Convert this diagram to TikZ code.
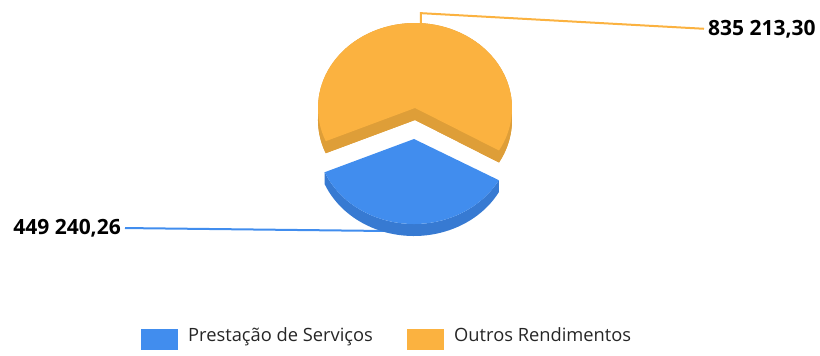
\documentclass[tikz,border=0pt]{standalone}
\usepackage{fontspec}
\setmainfont{Open Sans}
\usetikzlibrary{calc}
\definecolor{servblue}{RGB}{65,141,238}
\definecolor{servside}{RGB}{55,122,210}
\definecolor{outrorange}{RGB}{251,178,64}
\definecolor{outrside}{RGB}{222,158,56}
\tikzset{
  valuelabel/.style={font=\fontsize{21}{24}\selectfont\bfseries, inner sep=0pt},
  legendtext/.style={font=\fontsize{18.3}{21}\selectfont, text=black!85, inner sep=0pt,
    anchor=west, text height=0.75em, text depth=0.25em},
  legendbox/.style={minimum width=37pt, minimum height=21pt, inner sep=0pt},
  leader/.style={line width=2pt},
}
\begin{document}
\begin{tikzpicture}[x=1pt,y=1pt]
\useasboundingbox (0,0) rectangle (820,356);
% apexes of the two slices, top face and bottom face
\coordinate (otop) at (415,248);
\coordinate (obot) at (415,236);
\coordinate (btop) at (414,217);
\coordinate (bbot) at (414,205);
\path (otop) ++(-30:97 and 85) coordinate (oR);
\path (otop) ++(203:97 and 85) coordinate (oL);
\path (btop) ++(203:97 and 85) coordinate (bL);
\path (btop) ++(331:97 and 85) coordinate (bR);
\path (otop) ++(86.5:97 and 85) coordinate (otip);
\path (btop) ++(262:97 and 85) coordinate (bedge);
\coordinate (bwall) at ($(bedge)+(0,-8)$);
% value labels
\node[valuelabel, anchor=west] (olabel) at (708,327) {835 213,30};
\node[valuelabel, anchor=east] (blabel) at (121,128) {449 240,26};
\draw[leader, outrorange, shorten >=4pt] (otip) -- ++(0,10) -- (olabel.west);
\draw[leader, servblue, shorten <=4pt] (blabel.east) -- (bwall);
% Outros Rendimentos
\fill[outrside] (obot) -- ++(-30:97 and 85) arc[start angle=-30, end angle=203, x radius=97, y radius=85] -- cycle;
\fill[outrside] (oR) arc[start angle=-30, end angle=203, x radius=97, y radius=85]
  -- ++(0,-12) arc[start angle=203, end angle=-30, x radius=97, y radius=85] -- cycle;
\fill[outrside] (otop) -- (oL) -- ++(0,-12) -- (obot) -- cycle;
\fill[outrside] (otop) -- (oR) -- ++(0,-12) -- (obot) -- cycle;
\fill[outrorange] (otop) -- (oR) arc[start angle=-30, end angle=203, x radius=97, y radius=85] -- cycle;
% Prestacao de Servicos
\fill[servside] (bL) arc[start angle=203, end angle=331, x radius=97, y radius=85]
  -- ++(0,-12) arc[start angle=331, end angle=203, x radius=97, y radius=85] -- cycle;
\fill[servblue] (btop) -- (bL) arc[start angle=203, end angle=331, x radius=97, y radius=85] -- cycle;
% legend
\node[legendbox, fill=servblue] (leg1box) at (159,16.5) {};
\node[legendtext] (leg1txt) at (188,16.5) {Prestação de Serviços};
\node[legendbox, fill=outrorange] (leg2box) at (425.5,16.5) {};
\node[legendtext] (leg2txt) at (454,16.5) {Outros Rendimentos};
\end{tikzpicture}
\end{document}
